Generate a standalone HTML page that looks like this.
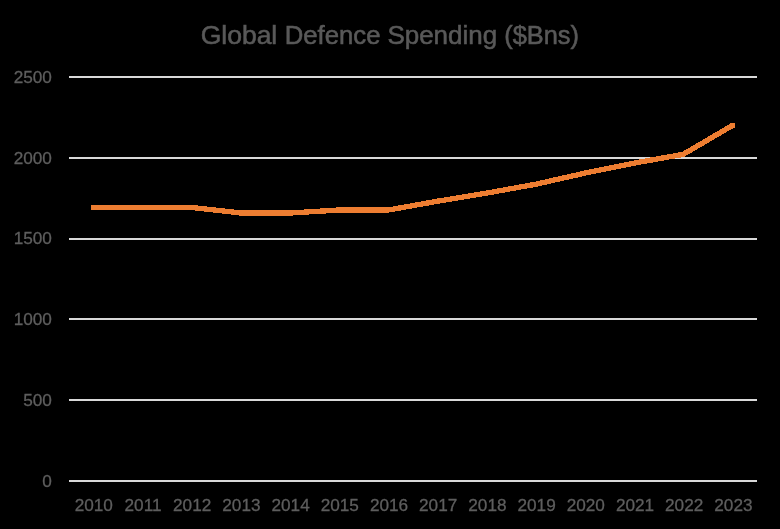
<!DOCTYPE html>
<html>
<head>
<meta charset="utf-8">
<title>Global Defence Spending ($Bns)</title>
<style>
html,body{margin:0;padding:0;background:#000;}
body{width:780px;height:529px;overflow:hidden;font-family:"Liberation Sans",sans-serif;}
svg{display:block;will-change:transform;transform:translateZ(0);}
.lab{font-family:"Liberation Sans",sans-serif;font-size:17.2px;fill:#5e5e5e;stroke:#5e5e5e;stroke-width:0.3px;}
.title{font-family:"Liberation Sans",sans-serif;font-size:25.4px;fill:#595959;stroke:#595959;stroke-width:0.55px;}
</style>
</head>
<body>
<svg width="780" height="529" viewBox="0 0 780 529">
<rect x="0" y="0" width="780" height="529" fill="#000000"/>
<text x="200.65" y="43.6" class="title" textLength="76.63" lengthAdjust="spacingAndGlyphs">Global</text>
<text x="284.72" y="43.6" class="title" textLength="95.75" lengthAdjust="spacingAndGlyphs">Defence</text>
<text x="387.42" y="43.6" class="title" textLength="109.77" lengthAdjust="spacingAndGlyphs">Spending</text>
<text x="504.20" y="43.6" class="title" textLength="74.74" lengthAdjust="spacingAndGlyphs">($Bns)</text>
<rect x="69" y="480" width="688" height="2" fill="#d9d9d9"/>
<rect x="69" y="399" width="688" height="2" fill="#d9d9d9"/>
<rect x="69" y="318" width="688" height="2" fill="#d9d9d9"/>
<rect x="69" y="238" width="688" height="2" fill="#d9d9d9"/>
<rect x="69" y="157" width="688" height="2" fill="#d9d9d9"/>
<rect x="69" y="76" width="688" height="2" fill="#d9d9d9"/>

<text x="51.9" y="486.7" text-anchor="end" class="lab">0</text>
<text x="51.9" y="405.9" text-anchor="end" class="lab">500</text>
<text x="51.9" y="325.1" text-anchor="end" class="lab">1000</text>
<text x="51.9" y="244.3" text-anchor="end" class="lab">1500</text>
<text x="51.9" y="163.5" text-anchor="end" class="lab">2000</text>
<text x="51.9" y="82.7" text-anchor="end" class="lab">2500</text>

<text x="93.80" y="511" text-anchor="middle" class="lab">2010</text>
<text x="143.00" y="511" text-anchor="middle" class="lab">2011</text>
<text x="192.20" y="511" text-anchor="middle" class="lab">2012</text>
<text x="241.40" y="511" text-anchor="middle" class="lab">2013</text>
<text x="290.60" y="511" text-anchor="middle" class="lab">2014</text>
<text x="339.80" y="511" text-anchor="middle" class="lab">2015</text>
<text x="389.00" y="511" text-anchor="middle" class="lab">2016</text>
<text x="438.20" y="511" text-anchor="middle" class="lab">2017</text>
<text x="487.40" y="511" text-anchor="middle" class="lab">2018</text>
<text x="536.60" y="511" text-anchor="middle" class="lab">2019</text>
<text x="585.80" y="511" text-anchor="middle" class="lab">2020</text>
<text x="635.00" y="511" text-anchor="middle" class="lab">2021</text>
<text x="684.20" y="511" text-anchor="middle" class="lab">2022</text>
<text x="733.40" y="511" text-anchor="middle" class="lab">2023</text>

<polyline points="93.57,207.50 142.71,207.50 191.86,207.50 241.00,213.00 290.14,213.00 339.29,210.00 388.43,210.00 437.57,201.20 486.71,193.10 535.86,184.20 585.00,173.10 634.14,163.10 683.29,154.30 732.43,125.50" fill="none" stroke="#ed7d31" stroke-width="5.33" stroke-linecap="butt" stroke-linejoin="round" shape-rendering="crispEdges"/>
<rect x="91" y="205" width="5" height="5" fill="#ed7d31" shape-rendering="crispEdges"/>
<rect x="730" y="123" width="5" height="5" fill="#ed7d31" shape-rendering="crispEdges"/>
</svg>
</body>
</html>
